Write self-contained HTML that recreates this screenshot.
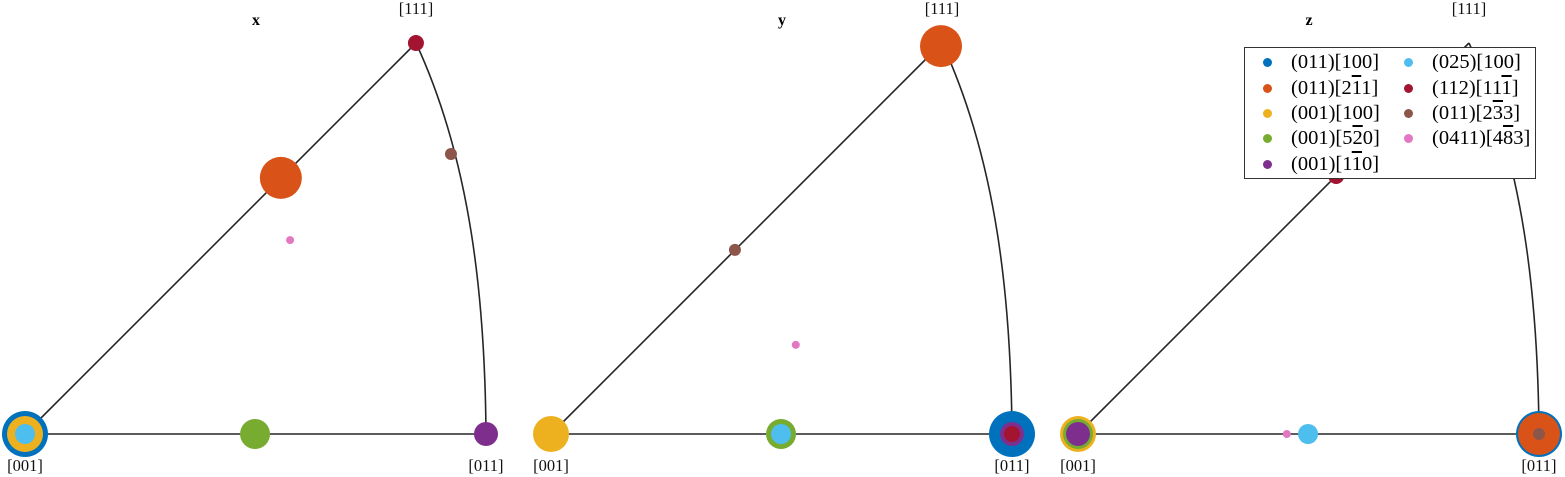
<!DOCTYPE html>
<html><head><meta charset="utf-8"><style>
body{margin:0;width:1565px;height:477px;background:#fff;overflow:hidden;position:relative;font-family:"Liberation Serif",serif}
.lbl{position:absolute;font-size:16.5px;line-height:20px;color:#111;transform:translateX(-50%);white-space:nowrap}
.ttl{position:absolute;font-size:16px;font-weight:bold;transform:translateX(-50%)}
.ov{text-decoration:overline}
#legend{position:absolute;left:1244px;top:47px;width:290px;height:130px;border:1px solid #333;background:#fff}
.le{position:absolute;font-size:20.5px;white-space:nowrap;line-height:22px}
.ld{position:absolute;width:9px;height:9px;border-radius:50%}
</style></head><body>
<svg id="chart" width="1565" height="477" style="position:absolute;left:0;top:0"></svg>
<div id="labels"></div>
<div id="legend"></div>
<script>
const panels = ["x","y","z"];
const seriesNames = ["(011)[100]","(011)[2<span class=ov>1</span>1]","(001)[100]","(001)[5<span class=ov>2</span>0]","(001)[1<span class=ov>1</span>0]","(025)[100]","(112)[11<span class=ov>1</span>]","(011)[2<span class=ov>3</span>3]","(0411)[4<span class=ov>8</span>3]"];
const seriesColors = ["#0072BD","#D95319","#EDB120","#77AC30","#7E2F8E","#4DBEEE","#A2142F","#8C564B","#E377C2"];
const seriesSize = [23,21,18,15,12,10,8,6,4];
// u: position along [001]->[011] (0..1), v: height fraction toward [-111]
const uX = [0,0.555,0,0.499,1,0,0.848,0.924,0.575];
const vX = [0,0.655,0,0,0,0,1,0.716,0.496];
const uY = [1,0.846,0,0.499,1,0.499,1,0.399,0.531];
const vY = [0,0.992,0,0,0,0,0,0.471,0.228];
const uZ = [1,1,0,0,0,0.499,0.56,1,0.453];
const vZ = [0,0,0,0,0,0,0.66,0,0];
const uAll=[uX,uY,uZ], vAll=[vX,vY,vZ];
const origins=[25,551,1078], baseY=434, W=461, H=391;
const svg=document.getElementById('chart'), NS="http://www.w3.org/2000/svg";
const labels=document.getElementById('labels');
function sx(p,u){return origins[p]+u*W;}
function sy(v){return baseY-v*H;}
function addLbl(x,y,html,cls,name){const d=document.createElement('div');d.className=cls;d.style.left=x+'px';d.style.top=y+'px';d.innerHTML=html;


labels.appendChild(d);}
panels.forEach((pn,p)=>{
  const o=origins[p];
  const path=document.createElementNS(NS,'path');
  path.setAttribute('d',`M${o+391},${sy(1)} L${o},${baseY} L${o+W},${baseY} C${o+W-1},${baseY-130} ${o+W-14},${baseY-270} ${o+391},${sy(1)}`);
  path.setAttribute('fill','none');path.setAttribute('stroke','#262626');path.setAttribute('stroke-width','1.6');
  
  
  svg.appendChild(path);
  for(let i=0;i<seriesNames.length;i++){
    const c=document.createElementNS(NS,'circle');
    c.setAttribute('cx',sx(p,uAll[p][i]));c.setAttribute('cy',sy(vAll[p][i]));c.setAttribute('r',seriesSize[i]);c.setAttribute('fill',seriesColors[i]);
    
    
    svg.appendChild(c);
  }
  addLbl(o,456,'[001]','lbl','label-001-'+pn);
  addLbl(o+W,456,'[011]','lbl','label-011-'+pn);
  addLbl(o+391,-1,'[<span class=ov>1</span>11]','lbl','label-111-'+pn);
  addLbl(o+231,12,pn,'ttl','title-'+pn);
});
const lg=document.getElementById('legend');
const rows=[14,40,65,90,116];
seriesNames.forEach((n,i)=>{
  const col=i<5?0:1,row=i<5?i:i-5;
  const d=document.createElement('div');d.className='ld';d.style.background=seriesColors[i];
  d.style.left=(col?159:18)+'px';d.style.top=(rows[row]-4)+'px';
  
  
  lg.appendChild(d);
  const t=document.createElement('div');t.className='le';t.innerHTML=n;
  t.style.left=(col?187:46)+'px';t.style.top=(rows[row]-11)+'px';
  
  
  lg.appendChild(t);
});
</script>
</body></html>
